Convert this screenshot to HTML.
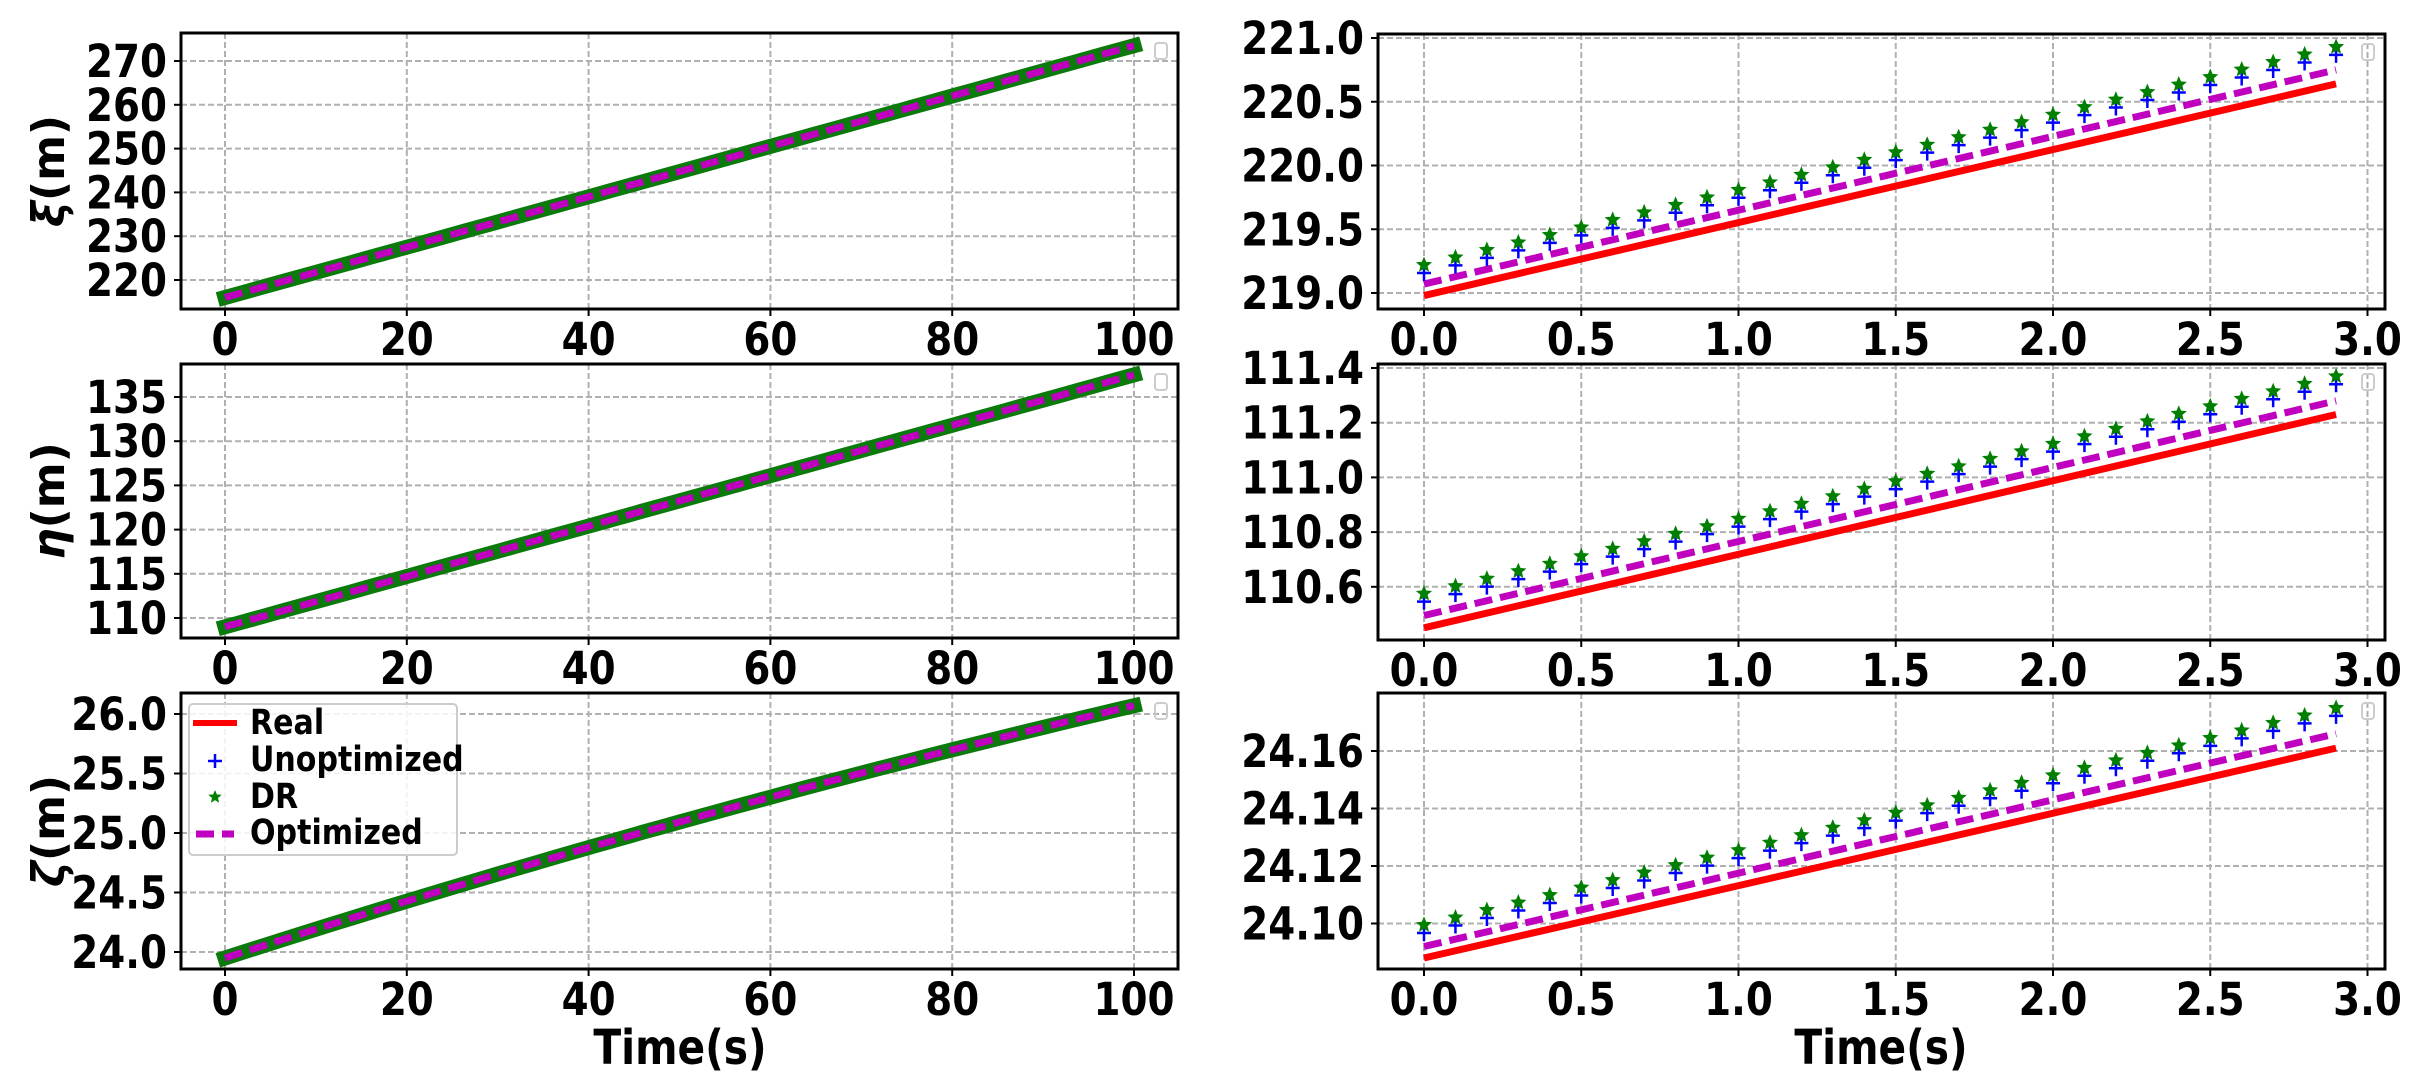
<!DOCTYPE html>
<html><head><meta charset="utf-8">
<style>
html,body{margin:0;padding:0;background:#fff;}
svg{display:block;}
text{font-family:"DejaVu Sans","Liberation Sans",sans-serif;font-weight:bold;fill:#000;}
</style></head>
<body>
<svg id="s" width="2417" height="1086" viewBox="0 0 2417 1086" xmlns="http://www.w3.org/2000/svg"></svg>
<script>
var S=document.getElementById('s');var out='';
function starPath(cx,cy,r){var p='';for(var i=0;i<10;i++){var a=-Math.PI/2+i*Math.PI/5;var rr=(i%2==0)?r:r*0.45;p+=(i?'L':'M')+(cx+rr*Math.cos(a)).toFixed(1)+','+(cy+rr*Math.sin(a)).toFixed(1);}return p+'Z';}
function T(x,y,s,anchor,fs,sy){return '<text transform="translate('+x+','+y+') scale(0.97,'+(sy||1.13)+')" font-size="'+fs+'" text-anchor="'+anchor+'">'+s+'</text>';}
function panel(o){
  var L=o.L,R=o.R,Tp=o.T,B=o.B;
  var X=function(v){return o.x0+(v-o.xv0)*o.xs;};
  var Y=function(v){return o.y0+(v-o.yv0)*o.ys;};
  o.xt.forEach(function(t){var x=X(t.v);out+='<line x1="'+x+'" y1="'+Tp+'" x2="'+x+'" y2="'+B+'" stroke="#b0b0b0" stroke-width="2" stroke-dasharray="6,3"/>';
    out+='<line x1="'+x+'" y1="'+B+'" x2="'+x+'" y2="'+(B+7)+'" stroke="#000" stroke-width="2"/>';
    out+=T(x,B+46,t.s,'middle',40);});
  o.yt.forEach(function(t){var y=Y(t.v);out+='<line x1="'+L+'" y1="'+y+'" x2="'+R+'" y2="'+y+'" stroke="#b0b0b0" stroke-width="2" stroke-dasharray="6,3"/>';
    out+='<line x1="'+(L-7)+'" y1="'+y+'" x2="'+L+'" y2="'+y+'" stroke="#000" stroke-width="2"/>';
    out+=T(L-14,y+16,t.s,'end',40);});
  if(o.kind=='left'){
    var pts=[];for(var i=0;i<=50;i++){var t=i*2;pts.push(X(t).toFixed(1)+','+Y(o.f(t)).toFixed(1));}
    out+='<polyline points="'+pts.join(' ')+'" fill="none" stroke="#0a7a0a" stroke-width="15" stroke-linecap="square"/>';
    out+='<polyline points="'+pts.join(' ')+'" fill="none" stroke="#bf00bf" stroke-width="7" stroke-dasharray="18,8"/>';
  } else {
    out+='<line x1="'+X(0)+'" y1="'+Y(o.r[0])+'" x2="'+X(2.9)+'" y2="'+Y(o.r[1])+'" stroke="#ff0000" stroke-width="7"/>';
    out+='<line x1="'+X(0)+'" y1="'+Y(o.p[0])+'" x2="'+X(2.9)+'" y2="'+Y(o.p[1])+'" stroke="#bf00bf" stroke-width="7" stroke-dasharray="18,8"/>';
    for(var k=0;k<30;k++){var t=k*0.1;var x=X(t);var y=Y(o.d[0]+(o.d[1]-o.d[0])*k/29);
      var yp=y+8;
      out+='<path d="M'+(x-7)+','+yp+'H'+(x+7)+'M'+x+','+(yp-7)+'V'+(yp+8)+'" stroke="#0000ff" stroke-width="2.5"/>';
      out+='<path d="'+starPath(x,y,8.5)+'" fill="#007f00"/>';}
  }
  out+='<rect x="'+(R-23)+'" y="'+(Tp+10)+'" width="12" height="16" rx="3" fill="none" stroke="#ccc" stroke-width="2"/>';
  out+='<rect x="'+L+'" y="'+Tp+'" width="'+(R-L)+'" height="'+(B-Tp)+'" fill="none" stroke="#000" stroke-width="3"/>';
  if(o.yl){var cy=(Tp+B)/2;out+='<text transform="translate(64,'+cy+') rotate(-90) scale(1.1,1.12)" font-size="40" text-anchor="middle"><tspan font-style="italic">'+o.yl+'</tspan>(m)</text>';}
}
function ticks(a,fmt){return a.map(function(v){return {v:v,s:fmt(v)};});}
var lx=ticks([0,20,40,60,80,100],function(v){return ''+v;});
var rx=ticks([0,0.5,1,1.5,2,2.5,3],function(v){return v.toFixed(1);});
var LB={L:181,R:1178,x0:225,xv0:0,xs:9.09,kind:'left',xt:lx};
var RB={L:1378,R:2385,x0:1424,xv0:0,xs:314.5,kind:'right',xt:rx};
function ext(a,b){var c={};for(var k in a)c[k]=a[k];for(var k in b)c[k]=b[k];return c;}
panel(ext(LB,{T:33,B:309,y0:61,yv0:270,ys:-4.38,yl:'ξ',yt:ticks([220,230,240,250,260,270],function(v){return ''+v;}),f:function(t){return 216+0.575*t;}}));
panel(ext(LB,{T:364,B:638,y0:397,yv0:135,ys:-8.84,yl:'η',yt:ticks([110,115,120,125,130,135],function(v){return ''+v;}),f:function(t){return 109+0.285*t;}}));
panel(ext(LB,{T:693,B:969,y0:714,yv0:26,ys:-119,yl:'ζ',yt:ticks([24,24.5,25,25.5,26],function(v){return v.toFixed(1);}),f:function(t){return 23.95+0.0245*t-0.000033*t*t;}}));
panel(ext(RB,{T:34,B:309,y0:38,yv0:221,ys:-127.5,yt:ticks([219,219.5,220,220.5,221],function(v){return v.toFixed(1);}),r:[218.98,220.64],p:[219.07,220.75],d:[219.22,220.93]}));
panel(ext(RB,{T:364,B:640,y0:368,yv0:111.4,ys:-273.5,yt:ticks([110.6,110.8,111.0,111.2,111.4],function(v){return v.toFixed(1);}),r:[110.45,111.23],p:[110.495,111.28],d:[110.575,111.37]}));
panel(ext(RB,{T:693,B:969,y0:751,yv0:24.16,ys:-2875,yt:ticks([24.10,24.12,24.14,24.16],function(v){return v.toFixed(2);}),r:[24.088,24.161],p:[24.092,24.166],d:[24.0995,24.175]}));
out+=T(680,1064,'Time(s)','middle',42,1.15);
out+=T(1881,1064,'Time(s)','middle',42,1.15);
out+='<rect x="189" y="704" width="268" height="151" rx="4" fill="#fff" fill-opacity="0.85" stroke="#ccc" stroke-width="2"/>';
out+='<line x1="193" y1="723" x2="237" y2="723" stroke="#ff0000" stroke-width="6"/>';
out+=T(250,734,'Real','start',31,1.12);
out+='<path d="M208,761H222M215,754V768" stroke="#0000ff" stroke-width="2.5"/>';
out+=T(250,771,'Unoptimized','start',31,1.12);
out+='<path d="'+starPath(215,797,7)+'" fill="#007f00"/>';
out+=T(250,808,'DR','start',31,1.12);
out+='<line x1="196" y1="834" x2="234" y2="834" stroke="#bf00bf" stroke-width="7" stroke-dasharray="18,8"/>';
out+=T(250,844,'Optimized','start',31,1.12);
S.innerHTML=out;
</script>
</body></html>
